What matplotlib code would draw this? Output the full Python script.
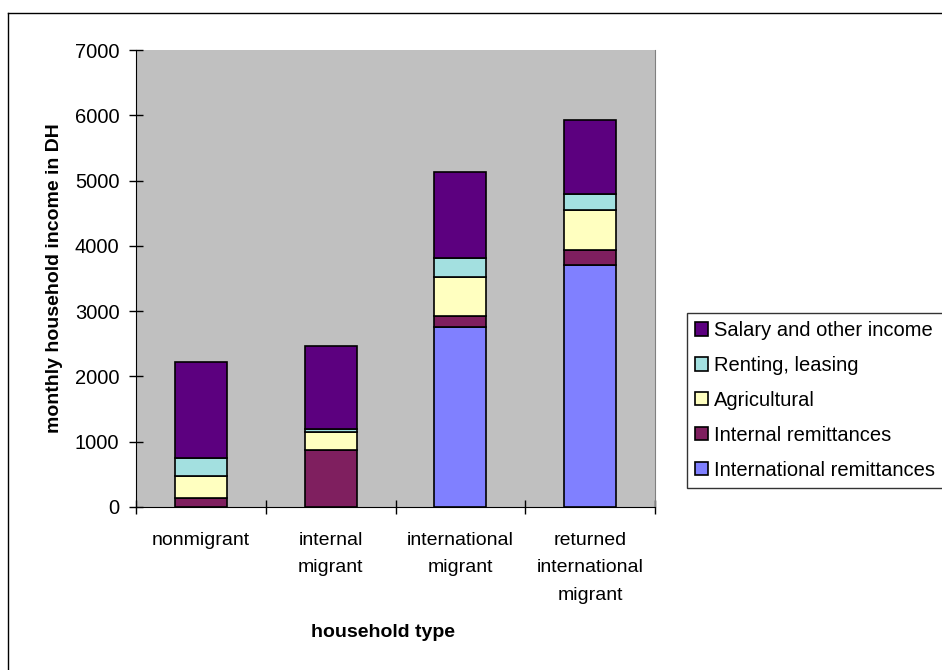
#!/usr/bin/env python3

import numpy as np
import matplotlib
matplotlib.use("Agg")
import matplotlib.pyplot as plt
from matplotlib.lines import Line2D

# household types on the x axis
categories = ["nonmigrant", "internal\nmigrant", "international\nmigrant",
              "returned\ninternational\nmigrant"]

# income sources, stacked bottom to top (DH per month)
intl_remit = [0, 0, 2750, 3710]
internal_remit = [140, 870, 175, 230]
agricultural = [335, 280, 595, 610]
renting = [275, 45, 290, 245]
salary = [1470, 1270, 1320, 1130]

series = [
    ("International remittances", intl_remit, "#8080FF"),
    ("Internal remittances", internal_remit, "#7F1F5F"),
    ("Agricultural", agricultural, "#FFFFC0"),
    ("Renting, leasing", renting, "#A3E0E0"),
    ("Salary and other income", salary, "#5C007F"),
]

plt.rcParams['font.family'] = ['Liberation Sans', 'DejaVu Sans']

W, H = 942, 670
fig = plt.figure(figsize=(W / 100, H / 100), dpi=100)

# plot area in pixels: x 136..655, y 50..507
ax = fig.add_axes([136 / W, 1 - 507 / H, 519 / W, 457 / H])
ax.set_facecolor("#C0C0C0")

x = np.arange(len(categories))
bottom = np.zeros(len(categories))
handles = []
for name, vals, col in series:
    vals = np.array(vals, dtype=float)
    b = ax.bar(x, vals, width=0.4, bottom=bottom, color=col,
               edgecolor="black", linewidth=1.2, label=name, zorder=3)
    handles.append(b)
    bottom += vals

ax.set_xlim(-0.5, len(categories) - 0.5)
ax.set_ylim(0, 7000)
ax.set_yticks(range(0, 7001, 1000))
ax.set_xticks(np.arange(-0.5, len(categories), 1.0))
ax.set_xticklabels([])
ax.set_xticks(x, minor=True)
ax.set_xticklabels(categories, minor=True, fontsize=14, linespacing=1.8,
                   va="top")
ax.tick_params(axis="x", which="minor", length=0, pad=18)
ax.tick_params(axis="x", which="major", direction="inout", length=10,
               width=1, color="black")
ax.tick_params(axis="y", direction="inout", length=10, width=1,
               labelsize=14.5, pad=7, color="black")

ax.spines["top"].set_visible(False)
ax.spines["right"].set_color("#808080")
ax.spines["left"].set_color("black")
ax.spines["bottom"].set_color("black")

ax.set_ylabel("monthly household income in DH", fontsize=14,
              fontweight="bold")
ax.yaxis.set_label_coords(-0.141, 0.5)
ax.set_xlabel("household type", fontsize=14, fontweight="bold")
ax.xaxis.set_label_coords(0.475, -0.255)

leg = fig.legend(handles=handles[::-1], loc="upper left",
                 bbox_to_anchor=(687 / W, 1 - 313 / H), fontsize=14.5,
                 handlelength=0.64, handleheight=0.64, handletextpad=0.3,
                 borderpad=0.4, labelspacing=0.79, frameon=True,
                 fancybox=False, edgecolor="black", borderaxespad=0)
leg.get_frame().set_linewidth(1.0)

# outer chart frame
fig.add_artist(Line2D([7.5 / W, 7.5 / W], [0, 1 - 13 / H],
                      transform=fig.transFigure, color="black", lw=1))
fig.add_artist(Line2D([7.5 / W, 1], [1 - 13 / H, 1 - 13 / H],
                      transform=fig.transFigure, color="black", lw=1))

fig.savefig("out.png", dpi=100)
